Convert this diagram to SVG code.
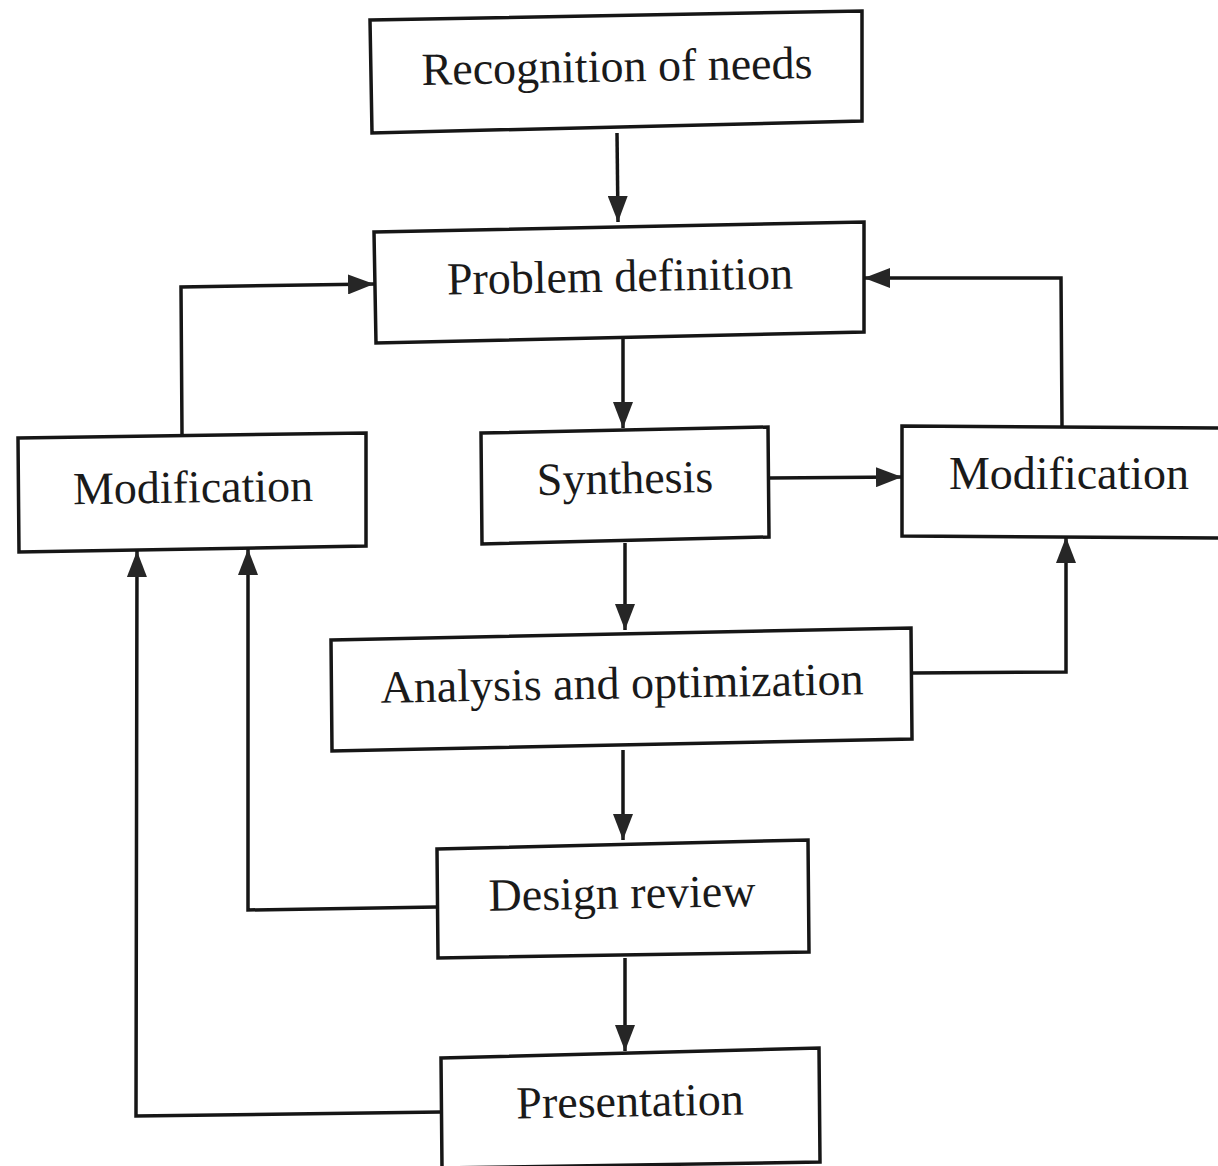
<svg xmlns="http://www.w3.org/2000/svg" width="1218" height="1166" viewBox="0 0 1218 1166">
  <style>
    .box { fill: #ffffff; stroke: #161616; stroke-width: 3.5; stroke-linejoin: miter; }
    .label { font-family: "Liberation Serif", "Times New Roman", serif; font-size: 46px; fill: #1a1a1a; text-anchor: middle; dominant-baseline: central; }
    .wire { fill: none; stroke: #161616; stroke-width: 3.5; }
  </style>
  <defs>
    <marker id="arrow" markerUnits="userSpaceOnUse" markerWidth="26" markerHeight="20" refX="26" refY="10" orient="auto" viewBox="0 0 26 20">
      <path d="M0,0 L26,10 L0,20 Z" fill="#262626"/>
    </marker>
  </defs>

  <rect width="1218" height="1166" fill="#ffffff"/>

  <!-- connectors -->
  <g id="connectors">
    <path class="wire" marker-end="url(#arrow)" d="M617,133 L618,222"/>
    <path class="wire" marker-end="url(#arrow)" d="M623,337 L623,428"/>
    <path class="wire" marker-end="url(#arrow)" d="M769,478 L902,477"/>
    <path class="wire" marker-end="url(#arrow)" d="M1062,426 L1061,278 L864,278"/>
    <path class="wire" marker-end="url(#arrow)" d="M912,673 L1066,672 L1066,537"/>
    <path class="wire" marker-end="url(#arrow)" d="M625,543 L625,630"/>
    <path class="wire" marker-end="url(#arrow)" d="M623,750 L623,840"/>
    <path class="wire" marker-end="url(#arrow)" d="M625,958 L625,1051"/>
    <path class="wire" marker-end="url(#arrow)" d="M182,434 L181,287 L374,284"/>
    <path class="wire" marker-end="url(#arrow)" d="M437,907 L248,910 L248,549"/>
    <path class="wire" marker-end="url(#arrow)" d="M441,1112 L136,1116 L137,551"/>
  </g>

  <!-- process steps -->
  <g id="recognition">
    <polygon class="box" points="370,20 862,11 862,121 372,133"/>
    <text class="label" x="617" y="66" transform="rotate(-1 617 66)">Recognition of needs</text>
  </g>
  <g id="problem-definition">
    <polygon class="box" points="374,232 864,222 864,332 376,343"/>
    <text class="label" x="620" y="276" transform="rotate(-1 620 276)">Problem definition</text>
  </g>
  <g id="synthesis">
    <polygon class="box" points="481,433 768,427 769,537 482,544"/>
    <text class="label" x="625" y="478" transform="rotate(-1 625 478)">Synthesis</text>
  </g>
  <g id="modification-right">
    <polygon class="box" points="902,426 1224,428 1224,538 902,536"/>
    <text class="label" x="1069" y="473">Modification</text>
  </g>
  <g id="modification-left">
    <polygon class="box" points="18,438 366,433 366,546 19,552"/>
    <text class="label" x="193" y="487" transform="rotate(-0.8 193 487)">Modification</text>
  </g>
  <g id="analysis">
    <polygon class="box" points="331,640 911,628 912,739 332,751"/>
    <text class="label" x="622" y="683" transform="rotate(-1 622 683)">Analysis and optimization</text>
  </g>
  <g id="design-review">
    <polygon class="box" points="437,849 808,840 809,952 438,958"/>
    <text class="label" x="622" y="893" transform="rotate(-1 622 893)">Design review</text>
  </g>
  <g id="presentation">
    <polygon class="box" points="441,1058 819,1048 820,1162 442,1168"/>
    <text class="label" x="630" y="1101" transform="rotate(-1 630 1101)">Presentation</text>
  </g>
</svg>
